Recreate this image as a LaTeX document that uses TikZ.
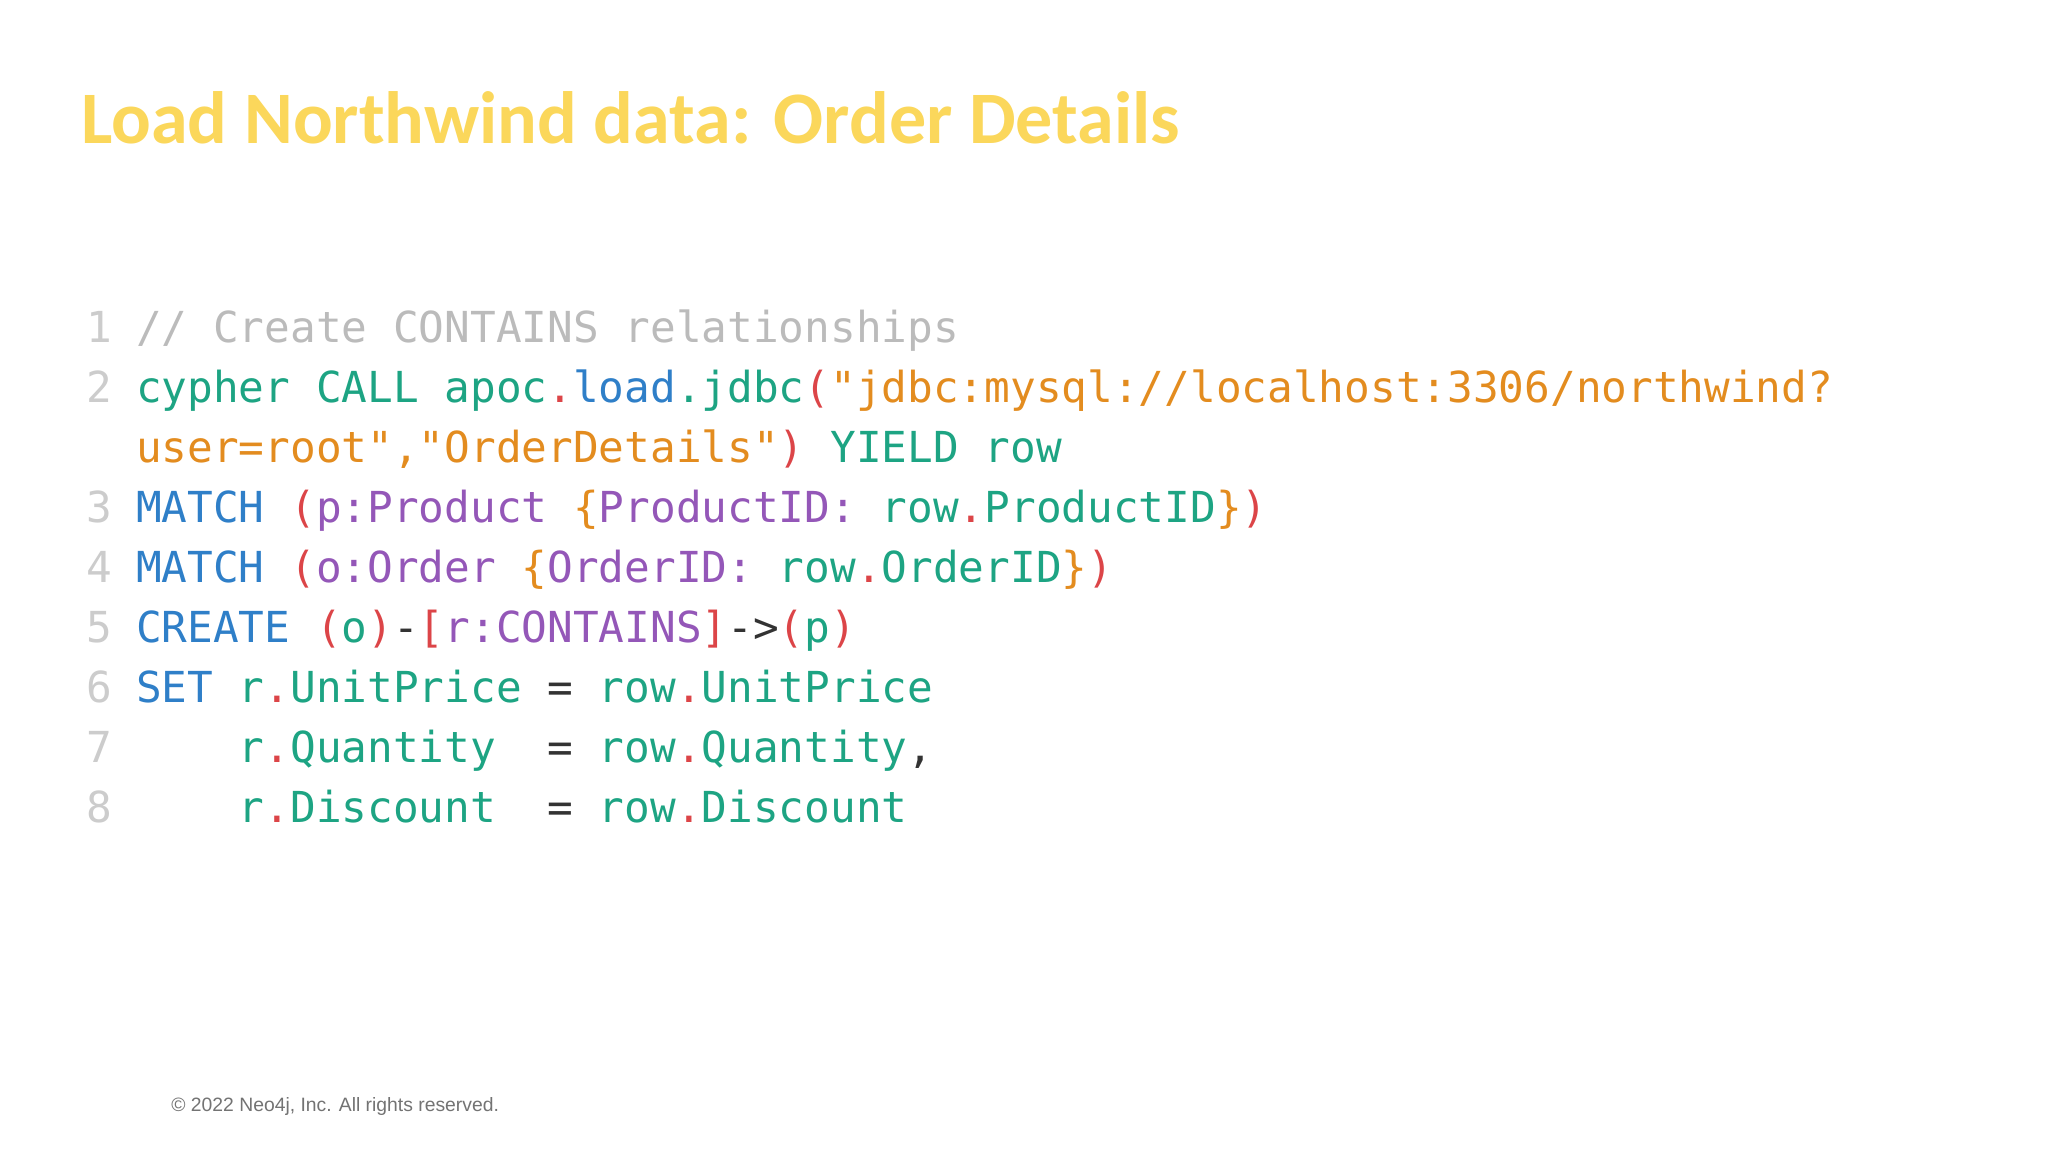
\documentclass[tikz,border=0pt]{standalone}
\usepackage{fontspec}
\setmainfont{Carlito}
\newfontfamily\codefont{DejaVu Sans Mono}
\newfontfamily\footfont{Liberation Sans}
\definecolor{cteal}{HTML}{1DA483}
\definecolor{cblue}{HTML}{2F7FC8}
\definecolor{corange}{HTML}{E38C1F}
\definecolor{cred}{HTML}{DC4548}
\definecolor{cpurple}{HTML}{9457B8}
\definecolor{cdark}{HTML}{333333}
\definecolor{cgray}{HTML}{BBBBBB}
\definecolor{cnum}{HTML}{CCCCCC}
\definecolor{ctitle}{HTML}{FBD75B}
\newcommand\cT[1]{\textcolor{cteal}{#1}}
\newcommand\cB[1]{\textcolor{cblue}{#1}}
\newcommand\cO[1]{\textcolor{corange}{#1}}
\newcommand\cR[1]{\textcolor{cred}{#1}}
\newcommand\cP[1]{\textcolor{cpurple}{#1}}
\newcommand\cD[1]{\textcolor{cdark}{#1}}
\begin{document}
\begin{tikzpicture}[x=1pt,y=-1pt,
  code/.style={anchor=base west,inner sep=0pt,font=\codefont\fontsize{32.7}{36}\selectfont},
  lnum/.style={anchor=base east,inner sep=0pt,text=cnum,font=\codefont\fontsize{32.7}{36}\selectfont}]
\useasboundingbox[fill=white] (0,0) rectangle (1568,882);
\node[anchor=base west,inner sep=0pt,text=ctitle,font=\bfseries\fontsize{56.7}{60}\selectfont] (title) at (62,110) {Load Northwind data: Order Details};
\foreach \n/\y in {1/262,2/308,3/400,4/446,5/492,6/538,7/584,8/630}{
  \node[lnum] (n\n) at (86,\y) {\n};
}
\node[code,text=cgray] (l1) at (104,262) {// Create CONTAINS relationships};
\node[code] (l2) at (104,308) {\cT{cypher CALL apoc}\cR{.}\cB{load}\cT{.jdbc}\cR{(}\cO{"jdbc:mysql://localhost:3306/northwind?}};
\node[code] (l2b) at (104,354) {\cO{user=root","OrderDetails"}\cR{)} \cT{YIELD row}};
\node[code] (l3) at (104,400) {\cB{MATCH} \cR{(}\cP{p:Product} \cO{\{}\cP{ProductID:} \cT{row}\cR{.}\cT{ProductID}\cO{\}}\cR{)}};
\node[code] (l4) at (104,446) {\cB{MATCH} \cR{(}\cP{o:Order} \cO{\{}\cP{OrderID:} \cT{row}\cR{.}\cT{OrderID}\cO{\}}\cR{)}};
\node[code] (l5) at (104,492) {\cB{CREATE} \cR{(}\cT{o}\cR{)}\cD{-}\cR{[}\cP{r:CONTAINS}\cR{]}\cD{->}\cR{(}\cT{p}\cR{)}};
\node[code] (l6) at (104,538) {\cB{SET} \cT{r}\cR{.}\cT{UnitPrice} \cD{=} \cT{row}\cR{.}\cT{UnitPrice}};
\node[code] (l7) at (104,584) {\phantom{SET~}\cT{r}\cR{.}\cT{Quantity}~~\cD{=} \cT{row}\cR{.}\cT{Quantity}\cD{,}};
\node[code] (l8) at (104,630) {\phantom{SET~}\cT{r}\cR{.}\cT{Discount}~~\cD{=} \cT{row}\cR{.}\cT{Discount}};
\node[anchor=base west,inner sep=0pt,text=black!55,font=\footfont\fontsize{14.8}{17}\selectfont] (foot) at (131,851) {\textcopyright{} 2022 Neo4j, Inc. All rights reserved.};
\end{tikzpicture}
\end{document}
